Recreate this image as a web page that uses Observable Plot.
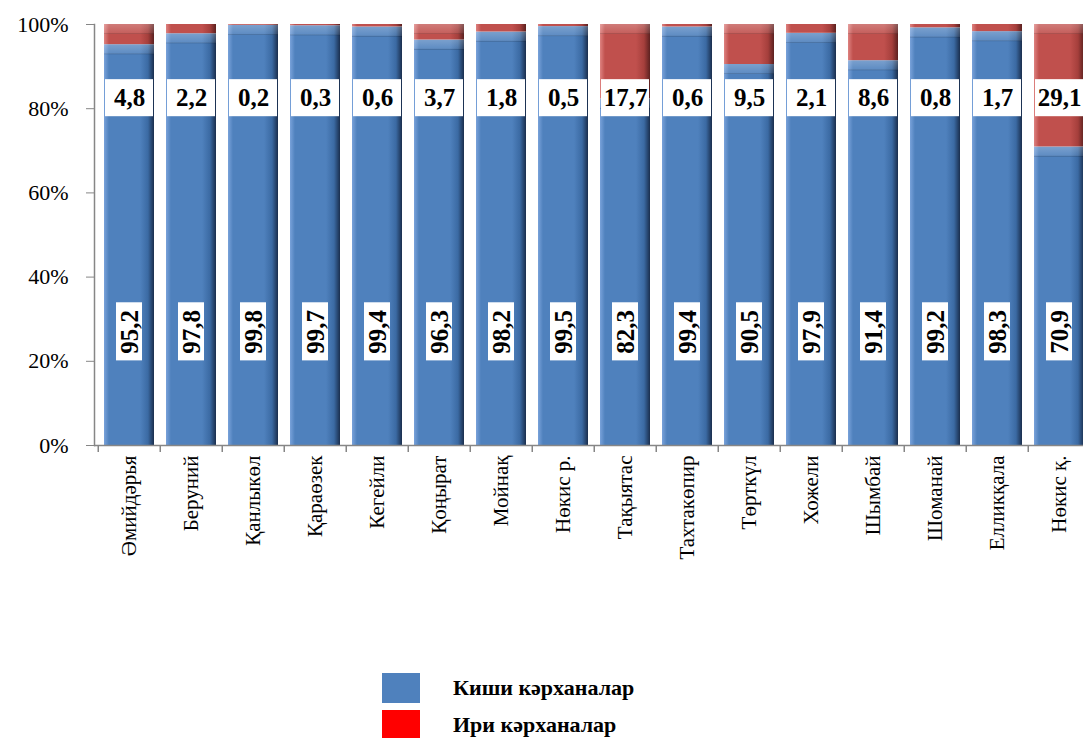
<!DOCTYPE html>
<html>
<head>
<meta charset="utf-8">
<script src="https://cdn.jsdelivr.net/npm/d3@7"></script>
<script src="https://cdn.jsdelivr.net/npm/@observablehq/plot@0.6"></script>
<style>
  html, body { margin: 0; padding: 0; background: white; width: 1083px; overflow: hidden; }
  #chart svg { display: block; font-family: "Liberation Serif", "Times New Roman", serif !important; }
  #chart svg text { font-family: "Liberation Serif", "Times New Roman", serif !important; }
  .legend { margin-left: 382px; margin-top: 29px; font-family: "Liberation Serif", "Times New Roman", serif; font-weight: bold; font-size: 22px; }
  .legend .row { display: flex; align-items: center; height: 37px; }
  .legend .sw { width: 38px; height: 30px; margin-right: 33px; }
</style>
</head>
<body>
<div id="chart"></div>
<div class="legend" id="legend"></div>
<script>
const districts = ["Әмийдәрья","Беруний","Қанлыкөл","Қараөзек","Кегейли","Қоңырат","Мойнақ","Нөкис р.","Тақыятас","Тахтакөпир","Төрткүл","Хожели","Шымбай","Шоманай","Елликқала","Нөкис қ."];
const smallShare = [95.2, 97.8, 99.8, 99.7, 99.4, 96.3, 98.2, 99.5, 82.3, 99.4, 90.5, 97.9, 91.4, 99.2, 98.3, 70.9];
const largeShare = [4.8, 2.2, 0.2, 0.3, 0.6, 3.7, 1.8, 0.5, 17.7, 0.6, 9.5, 2.1, 8.6, 0.8, 1.7, 29.1];
const seriesNames = ["Киши кәрханалар", "Ири кәрханалар"];
const legendColors = ["#4F81BD", "#FF0000"];
const yTicks = [0, 20, 40, 60, 80, 100];

const fmt = v => v.toFixed(1).replace(".", ",");
const rows = [];
districts.forEach((d, i) => {
  rows.push({district: d, series: seriesNames[0], value: smallShare[i]});
  rows.push({district: d, series: seriesNames[1], value: largeShare[i]});
});
const tops = [];
districts.forEach((d, i) => {
  tops.push({district: d, series: seriesNames[0], top: smallShare[i], size: smallShare[i]});
  tops.push({district: d, series: seriesNames[1], top: 100, size: largeShare[i]});
});
const font = "'Liberation Serif', 'Times New Roman', serif";
const W = 1083, ML = 94, XR = 1094;
const step = (XR - ML) / districts.length;

const plot = Plot.plot({
  width: W,
  height: 640,
  marginLeft: ML,
  marginRight: 0,
  marginTop: 24,
  marginBottom: 195,
  style: {fontFamily: font, background: "white", overflow: "hidden"},
  x: {domain: districts, range: [ML, XR], paddingInner: 0.2, paddingOuter: 0.1, label: null},
  y: {domain: [0, 100], ticks: yTicks, label: null},
  color: {domain: seriesNames, range: ["url(#gBlue)", "url(#gRed)"]},
  marks: [
    Plot.barY(rows, {x: "district", y: "value", fill: "series", order: seriesNames}),
    Plot.barY(tops.filter(t => t.size > 2.4), {x: "district", y1: "top", y2: "top", insetBottom: -10, fill: "url(#gTop)"}),
    Plot.ruleY([0], {stroke: "#868686", strokeWidth: 1.5}),
    Plot.ruleX(districts, {x: d => d, y1: 0, y2: 0, insetBottom: -7, dx: -step / 2, stroke: "#868686", strokeWidth: 1.5}),
    Plot.frame({anchor: "left", stroke: "#868686", strokeWidth: 1.5}),
    Plot.axisY({ticks: yTicks, tickFormat: d => d + "%", tickSize: 8, tickPadding: 18, fontSize: 22, fontFamily: font, stroke: "#868686", color: "black"}),
    Plot.axisX({tickSize: 0, tickPadding: 10, tickRotate: -90, fontSize: 21, fontFamily: font, label: null}),
    // white boxes and labels for small enterprises (rotated)
    Plot.barY(districts, {x: d => d, y1: 20.1, y2: 33.9, fill: "white", insetLeft: 12, insetRight: 12}),
    Plot.text(districts, {x: d => d, y: 27, text: (d, i) => fmt(smallShare[i]), rotate: -90, fontSize: 25, fontWeight: "bold", fontFamily: font, fill: "black"}),
    // white boxes and labels for large enterprises
    Plot.barY(districts, {x: d => d, y1: 78.1, y2: 86.9, fill: "white", insetLeft: 1, insetRight: 1}),
    Plot.text(districts, {x: d => d, y: 82.5, text: (d, i) => fmt(largeShare[i]), fontSize: 25, fontWeight: "bold", fontFamily: font, fill: "black"})
  ]
});

const defs = d3.select(plot).insert("defs", ":first-child");
function hgrad(id, c0, c1, c2, c3) {
  const g = defs.append("linearGradient").attr("id", id).attr("x1", 0).attr("x2", 1).attr("y1", 0).attr("y2", 0);
  g.append("stop").attr("offset", "0%").attr("stop-color", c0);
  g.append("stop").attr("offset", "10%").attr("stop-color", c1);
  g.append("stop").attr("offset", "72%").attr("stop-color", c1);
  g.append("stop").attr("offset", "88%").attr("stop-color", c2);
  g.append("stop").attr("offset", "100%").attr("stop-color", c3);
}
hgrad("gBlue", "#79A2DA", "#4F81BD", "#3B6AA3", "#1A2E4D");
hgrad("gRed", "#DE8280", "#C0504D", "#A53F3C", "#5C2120");
const gt = defs.append("linearGradient").attr("id", "gTop").attr("x1", 0).attr("x2", 0).attr("y1", 0).attr("y2", 1);
gt.append("stop").attr("offset", "0%").attr("stop-color", "white").attr("stop-opacity", 0.25);
gt.append("stop").attr("offset", "85%").attr("stop-color", "white").attr("stop-opacity", 0.1);
gt.append("stop").attr("offset", "100%").attr("stop-color", "black").attr("stop-opacity", 0.25);

document.getElementById("chart").appendChild(plot);

const legend = document.getElementById("legend");
seriesNames.forEach((name, i) => {
  const row = document.createElement("div");
  row.className = "row";
  const sw = document.createElement("div");
  sw.className = "sw";
  sw.style.background = legendColors[i];
  const label = document.createElement("span");
  label.textContent = name;
  row.appendChild(sw);
  row.appendChild(label);
  legend.appendChild(row);
});
</script>
</body>
</html>
